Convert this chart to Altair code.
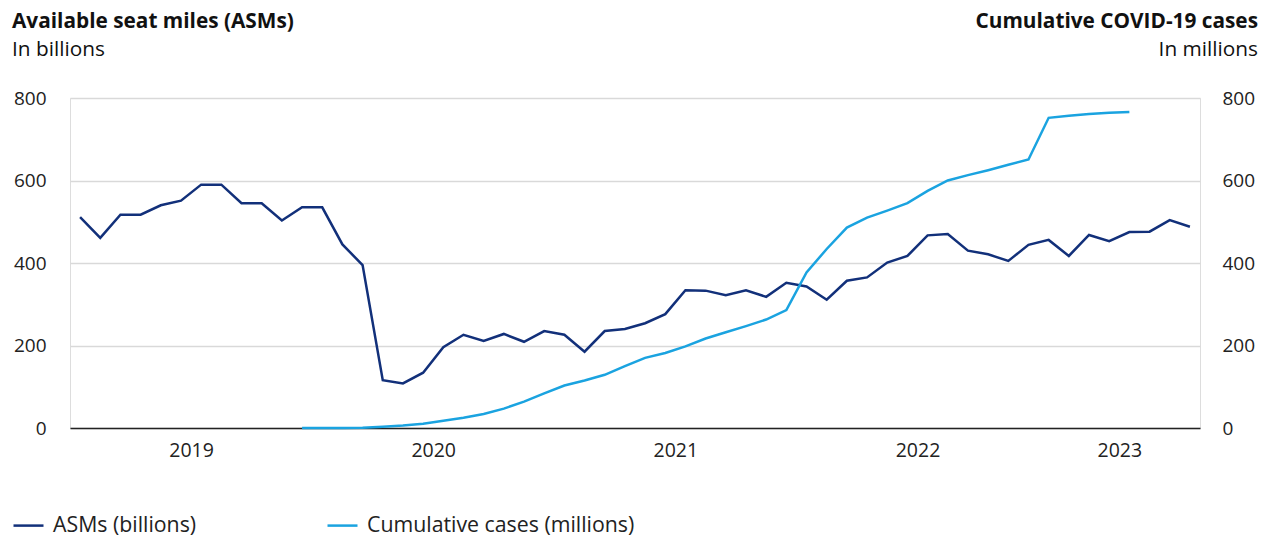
import altair as alt
import pandas as pd

# Monthly data, Jan 2019 .. Aug 2023
months = [f"{y}-{m:02d}" for y in range(2019, 2024) for m in range(1, 13)][:56]

asm_billions = [
    511, 461, 517, 517, 540, 551, 590, 590, 545, 545,
    503, 535, 535, 445, 395, 116, 108, 134, 196, 226,
    211, 228, 209, 235, 226, 185, 235, 240, 254, 276,
    334, 333, 322, 334, 318, 352, 343, 311, 357, 365,
    401, 417, 467, 470, 430, 421, 405, 444, 456, 417,
    468, 453, 475, 476, 504, 488,
]

cases_millions = [None] * 11 + [
    0.0, 0.01, 0.09, 0.8, 3.2, 6.2, 10.4, 17.5, 25, 34,
    47, 64, 84, 103, 115, 129, 150, 170, 182, 198,
    217, 232, 247, 263, 286, 377, 434, 486, 510, 527,
    545, 575, 600, 613, 625, 638, 651, 752, 757, 761,
    764, 766,
] + [None] * 3

year_labels = ["2019", "2020", "2021", "2022", "2023"]
year_centers = [5.5, 17.5, 29.5, 41.5, 51.5]
y_ticks = [0, 200, 400, 600, 800]

series_names = ["ASMs (billions)", "Cumulative cases (millions)"]
series_colors = ["#12307A", "#1AA3E0"]

FONT = "Open Sans"

df_asm = pd.DataFrame({"month": months, "i": list(range(len(months))),
                       "value": asm_billions, "series": series_names[0]})
df_cases = pd.DataFrame({"month": months, "i": list(range(len(months))),
                         "value": cases_millions, "series": series_names[1]}).dropna()

label_expr = "[" + ",".join(f"'{l}'" for l in year_labels) + "][indexof([" + \
    ",".join(str(c) for c in year_centers) + "], datum.value)]"

x_enc = alt.X("i:Q", scale=alt.Scale(domain=[-0.5, 55.5], nice=False, zero=False),
              axis=alt.Axis(values=year_centers, labelExpr=label_expr, title=None,
                            grid=False, ticks=False, labelPadding=13,
                            domainColor="#222222", domainWidth=1.6,
                            labelFontSize=19.5, labelColor="#222222", labelFont=FONT))

color_enc = alt.Color("series:N",
                      scale=alt.Scale(domain=series_names, range=series_colors),
                      legend=alt.Legend(orient="none", legendX=-58, legendY=411,
                                        direction="horizontal", title=None,
                                        symbolType="stroke", symbolSize=900,
                                        symbolStrokeWidth=2.5, labelFontSize=21.3,
                                        labelFont=FONT, labelColor="#222222",
                                        labelOffset=8, columnPadding=125,
                                        labelLimit=400))

asm_line = alt.Chart(df_asm).mark_line(strokeWidth=2.5).encode(
    x=x_enc,
    y=alt.Y("value:Q", scale=alt.Scale(domain=[0, 800], nice=False),
            axis=alt.Axis(values=y_ticks, title=None, orient="left", grid=True,
                          gridColor="#d9d9d9", gridWidth=1.5, domain=False,
                          ticks=False, labelPadding=24, labelFontSize=19,
                          labelColor="#222222", labelFont=FONT)),
    color=color_enc,
)

cases_line = alt.Chart(df_cases).mark_line(strokeWidth=2.5).encode(
    x=x_enc,
    y=alt.Y("value:Q", scale=alt.Scale(domain=[0, 800], nice=False),
            axis=alt.Axis(values=y_ticks, title=None, orient="right", grid=False,
                          domain=False, ticks=False, labelPadding=22,
                          labelFontSize=19, labelColor="#222222", labelFont=FONT)),
    color=color_enc,
)

one = alt.Data(values=[{}])

def txt(s, x, y, align, bold, size):
    return alt.Chart(one).mark_text(text=s, align=align, baseline="alphabetic",
                                    font=FONT, fontSize=size,
                                    fontWeight="bold" if bold else "normal",
                                    color="#111111").encode(x=alt.value(x), y=alt.value(y))

titles = [
    txt("Available seat miles (ASMs)", -58, -70.5, "left", True, 20.8),
    txt("In billions", -58, -42.5, "left", False, 20.8),
    txt("Cumulative COVID-19 cases", 1188, -70.5, "right", True, 20.8),
    txt("In millions", 1188, -42.5, "right", False, 20.8),
]

chart = alt.layer(asm_line, cases_line, *titles).resolve_scale(
    y="independent"
).properties(
    width=1130, height=330,
    autosize=alt.AutoSizeParams(type="none"),
    padding={"left": 70, "top": 98, "right": 62, "bottom": 109},
).configure_view(stroke=None).configure(background="white")

chart.save("out.html", embed_options={"renderer": "svg", "actions": False})
